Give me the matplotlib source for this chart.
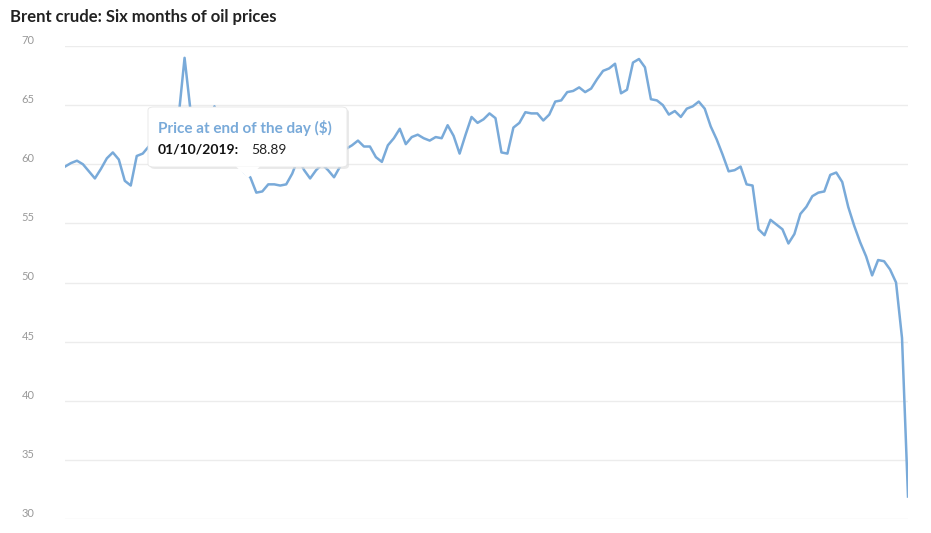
import matplotlib.pyplot as plt
from matplotlib.patches import FancyBboxPatch, Polygon

# daily Brent close, six months
prices = [
    59.8, 60.1, 60.3, 60.0, 59.4, 58.8, 59.6, 60.5, 61.0, 60.4,
    58.6, 58.2, 60.7, 60.9, 61.5, 62.0, 62.5, 63.0, 63.5, 64.0,
    69.0, 64.5, 63.5, 63.0, 63.5, 64.9, 63.0, 62.0, 61.0, 60.0,
    59.3, 58.89, 57.6, 57.7, 58.3, 58.3, 58.2, 58.3, 59.2, 60.5,
    59.5, 58.8, 59.5, 60.0, 59.5, 58.9, 59.8, 61.3, 61.6, 62.0,
    61.5, 61.5, 60.6, 60.2, 61.6, 62.2, 63.0, 61.7, 62.3, 62.5,
    62.2, 62.0, 62.3, 62.2, 63.3, 62.4, 60.9, 62.5, 64.0, 63.5,
    63.8, 64.3, 63.9, 61.0, 60.9, 63.1, 63.5, 64.4, 64.3, 64.3,
    63.7, 64.2, 65.3, 65.4, 66.1, 66.2, 66.5, 66.1, 66.4, 67.2,
    67.9, 68.1, 68.5, 66.0, 66.3, 68.6, 68.9, 68.2, 65.5, 65.4,
    65.0, 64.2, 64.5, 64.0, 64.7, 64.9, 65.3, 64.7, 63.2, 62.1,
    60.8, 59.4, 59.5, 59.8, 58.3, 58.2, 54.5, 54.0, 55.3, 54.9,
    54.5, 53.3, 54.1, 55.8, 56.4, 57.3, 57.6, 57.7, 59.1, 59.3,
    58.5, 56.4, 54.8, 53.4, 52.2, 50.6, 51.9, 51.8, 51.1, 50.0,
    45.3, 31.9,
]
yticks = [30, 35, 40, 45, 50, 55, 60, 65, 70]
tip_title = 'Price at end of the day ($)'
tip_date = '01/10/2019'
tip_idx = 31

plt.rcParams['font.family'] = ['Lato', 'DejaVu Sans']
fig = plt.figure(figsize=(9.31, 5.33), dpi=100)
ax = fig.add_axes([65/931, 1-519/533, 843/931, 473/533])

ax.plot(range(len(prices)), prices, color='#79aad9', lw=1.8)
ax.set_xlim(0, len(prices)-1)
ax.set_ylim(30, 70)
ax.set_yticks(yticks)
ax.set_xticks([])
ax.grid(axis='y', color='#ececec', lw=1)
ax.set_axisbelow(True)
for s in ax.spines.values():
    s.set_visible(False)
ax.tick_params(axis='y', length=0, labelsize=8, labelcolor='#999999', pad=22)
for lab in ax.get_yticklabels():
    lab.set_verticalalignment('bottom')

fig.text(10/931, 1-17/533, 'Brent crude: Six months of oil prices',
         fontsize=12, fontweight='bold', color='#222222', va='center')

# tooltip
W, H = 931, 533
shadow = FancyBboxPatch((150/W, 1-169/H), 199/W, 60/H, boxstyle='round,pad=0,rounding_size=0.006',
                        transform=fig.transFigure, fc='#dddddd', ec='none', alpha=0.6, zorder=4)
box = FancyBboxPatch((148/W, 1-167/H), 199/W, 60/H, boxstyle='round,pad=0,rounding_size=0.006',
                     transform=fig.transFigure, fc='white', ec='#e6e6e6', lw=0.6, zorder=5)
tri = Polygon([(236/W, 1-166.5/H), (260/W, 1-166.5/H), (248/W, 1-178/H)], closed=True,
              transform=fig.transFigure, fc='white', ec='none', zorder=6)
fig.patches.extend([shadow, box, tri])
fig.text(158/W, 1-128/H, tip_title, fontsize=11, fontweight='bold', color='#79aad9', va='center', zorder=7)
fig.text(158/W, 1-150/H, tip_date + ':', fontsize=10, fontweight='bold', color='#111111', va='center', zorder=7)
fig.text(251/W, 1-150/H, '%.2f' % prices[tip_idx], fontsize=10, color='#222222', va='center', zorder=7)

fig.savefig('out.png', dpi=100)
